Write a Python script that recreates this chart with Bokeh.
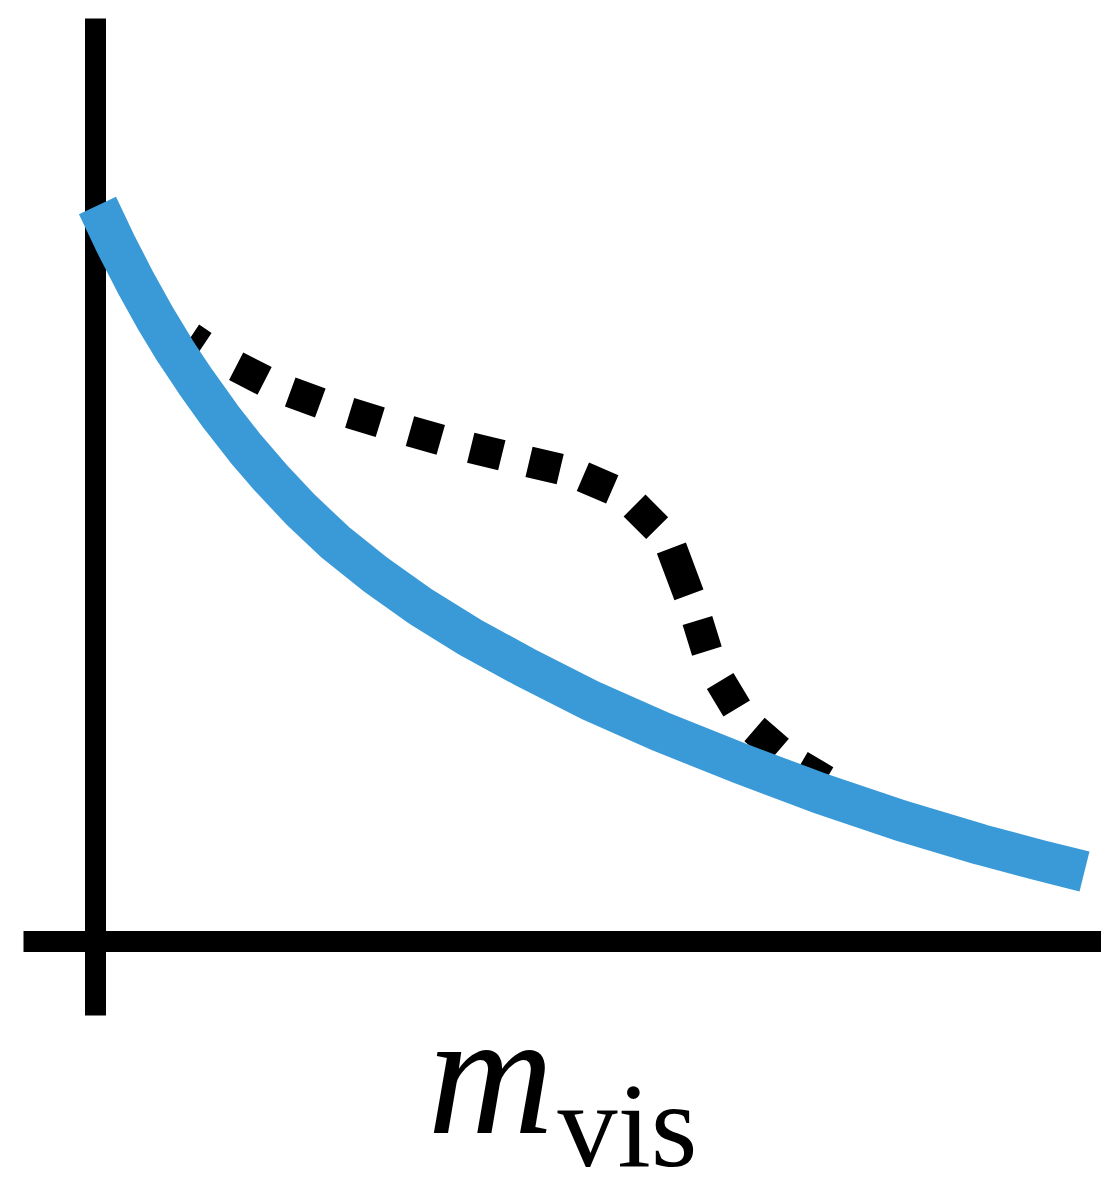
from bokeh.plotting import figure
from bokeh.models import Range1d
from bokeh.core.properties import value
from bokeh.embed import file_html
from bokeh.resources import INLINE

# Smooth baseline curve (thick blue)
base_x = [0.02, 0.20, 0.40, 0.60, 0.80, 1.00, 1.25, 1.50, 1.75, 2.05, 2.40, 2.80,
          3.25, 3.75, 4.30, 4.95, 5.65, 6.45, 7.25, 8.05, 8.85, 9.45, 9.89]
base_y = [7.36, 6.98, 6.59, 6.23, 5.90, 5.60, 5.25, 4.93, 4.64, 4.32, 3.99, 3.67,
          3.35, 3.04, 2.74, 2.41, 2.10, 1.78, 1.48, 1.21, 0.97, 0.81, 0.70]

# Curve with a shoulder (black square dots), tucked under the blue curve at both ends
shoulder_x = [0.95, 1.295, 1.81, 2.40, 3.00, 3.60, 4.215, 4.765, 5.275, 5.725,
              5.965, 6.165, 6.485, 6.925, 7.30]
shoulder_y = [6.04, 5.81, 5.545, 5.33, 5.145, 4.975, 4.825, 4.695, 4.475, 4.025,
              3.385, 2.74, 2.21, 1.83, 1.61]

# Axis extents
y_axis_x = [0.0, 0.0]
y_axis_y = [-0.74, 9.23]
x_axis_x = [-0.72, 10.2]
x_axis_y = [0.0, 0.0]

# Axis label pieces
label_main = ["m"]
label_sub = ["vis"]

# dash/gap sequence giving one square per stretch of the dotted curve
dot_pattern = "15 39 32 28 32 31 32 31 32 31 32 28 32 24 32 28 32 25 50 27 32 33 32 28 32 26 40 20"

p = figure(width=1101, height=1178,
           x_range=Range1d(-0.95, 10.06), y_range=Range1d(-2.37, 9.41),
           min_border=0, toolbar_location=None, output_backend="svg")
p.axis.visible = False
p.grid.visible = False
p.outline_line_color = None
p.background_fill_color = "white"
p.border_fill_color = "white"

# axes
p.line(y_axis_x, y_axis_y, line_color="black", line_width=21, line_cap="butt")
p.line(x_axis_x, x_axis_y, line_color="black", line_width=21, line_cap="butt")

# dotted curve first, blue curve painted over it
p.line(shoulder_x, shoulder_y, line_color="black", line_width=31,
       line_dash=dot_pattern, line_cap="butt", line_join="miter")
p.line(base_x, base_y, line_color="#3a9ad8", line_width=41, line_cap="butt", line_join="round")

# axis label: italic m with upright subscript
p.text(x=[3.32], y=[-1.32], text=label_main, text_font=value("Liberation Serif"),
       text_font_style="italic", text_font_size="175px", text_color="black",
       text_align="left", text_baseline="alphabetic")
p.text(x=[4.62], y=[-1.84], text=label_sub, text_font=value("Liberation Serif"),
       text_font_size="120px", text_color="black",
       text_align="left", text_baseline="alphabetic")

open("out.html", "w").write(file_html(p, INLINE))
